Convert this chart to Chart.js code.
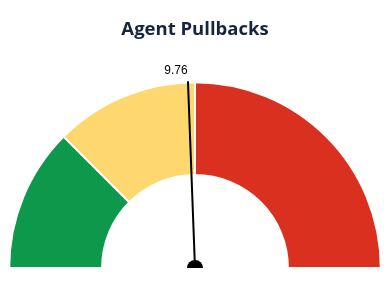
<!DOCTYPE html>
<html lang="en">

<head>
    <meta charset="UTF-8">
    <title>Agent Pullbacks</title>
    <script src="https://cdn.jsdelivr.net/npm/chart.js@4/dist/chart.umd.min.js"></script>
    <style>
        html, body { margin: 0; padding: 0; background: #fff; }
        .box { width: 390px; height: 289px; }
    </style>
</head>

<body>
    <div class="box"><canvas id="gauge"></canvas></div>
    <script>
        // gauge bands (thresholds) and the current reading
        const bandLabels = ['Good', 'Warning', 'Critical'];
        const bandSizes = [5, 5, 10];
        const bandColors = ['#0E984B', '#FED76F', '#D9301F'];
        const gaugeValue = 9.76;

        const needle = {
            id: 'needle',
            afterDatasetsDraw(chart) {
                const meta = chart.getDatasetMeta(0);
                const arc = meta.data[0];
                const cx = arc.x, cy = arc.y;
                const r = arc.outerRadius;
                const total = bandSizes.reduce((a, b) => a + b, 0);
                const ang = Math.PI + Math.PI * (gaugeValue / total);
                const tx = cx + Math.cos(ang) * (r + 1);
                const ty = cy + Math.sin(ang) * (r + 1);
                const ctx = chart.ctx;
                ctx.save();
                ctx.strokeStyle = '#000';
                ctx.lineWidth = 2;
                ctx.beginPath();
                ctx.moveTo(cx, cy);
                ctx.lineTo(tx, ty);
                ctx.stroke();
                ctx.fillStyle = '#000';
                ctx.beginPath();
                ctx.arc(cx, cy, 8, Math.PI, 2 * Math.PI);
                ctx.fill();
                ctx.font = '12px Arial, "Liberation Sans", sans-serif';
                ctx.textAlign = 'center';
                ctx.textBaseline = 'middle';
                ctx.fillText(gaugeValue.toFixed(2), tx - 12, ty - 11);
                ctx.restore();
            }
        };

        new Chart('gauge', {
            type: 'doughnut',
            data: {
                labels: bandLabels,
                datasets: [{
                    data: bandSizes,
                    backgroundColor: bandColors,
                    borderColor: '#fff',
                    borderWidth: 2
                }]
            },
            options: {
                responsive: true,
                maintainAspectRatio: false,
                animation: false,
                rotation: -90,
                circumference: 180,
                cutout: '50%',
                layout: { padding: { top: 0, bottom: 20, left: 0, right: 0 } },
                plugins: {
                    legend: { display: false },
                    tooltip: { enabled: false },
                    title: {
                        display: true,
                        text: 'Agent Pullbacks',
                        color: '#172440',
                        font: { family: '"Open Sans", sans-serif', size: 18.5, weight: 'bold' },
                        padding: { top: 19, bottom: 40 }
                    }
                }
            },
            plugins: [needle]
        });
    </script>
</body>

</html>
